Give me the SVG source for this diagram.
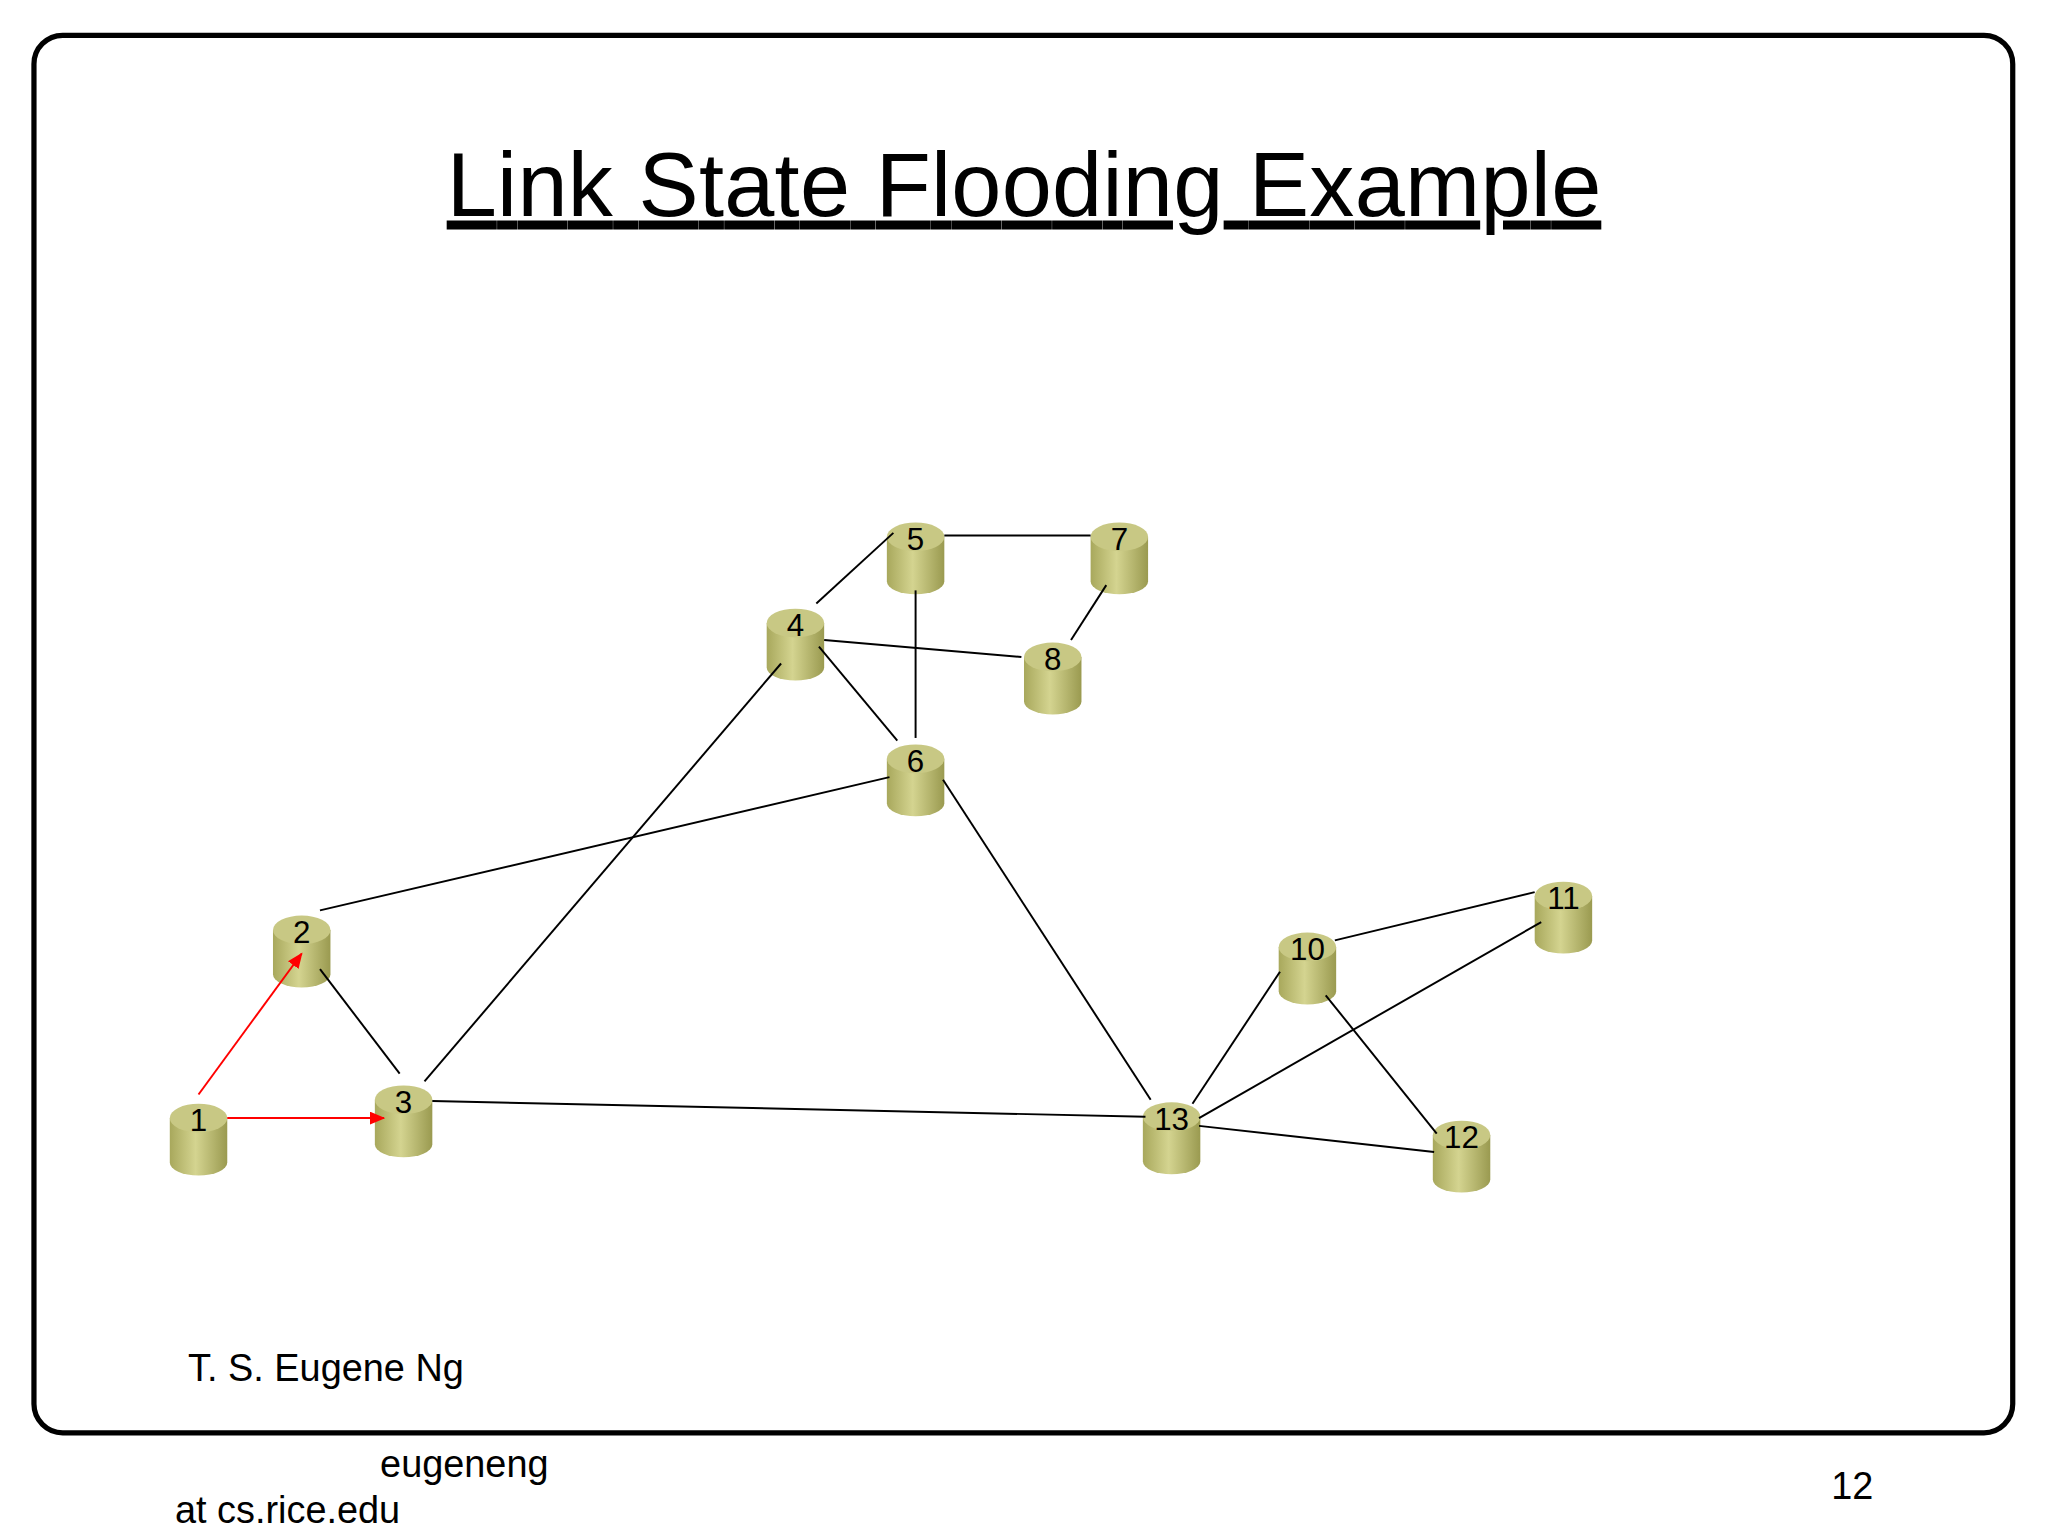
<svg xmlns="http://www.w3.org/2000/svg" width="2048" height="1536" viewBox="0 0 2048 1536">
<defs>
<style>
text{font-family:"Liberation Sans",Arial,sans-serif;fill:#000}
.e{stroke:#000;stroke-width:1.5;fill:none}
.r{stroke:#f00;stroke-width:1.5;fill:none;marker-end:url(#ah)}
.lbl{font-size:24px;text-anchor:middle}
</style>
<linearGradient id="cyl" x1="0" x2="1" y1="0" y2="0">
<stop offset="0" stop-color="#a8a85c"/><stop offset="0.45" stop-color="#d4d490"/><stop offset="1" stop-color="#9a9a50"/>
</linearGradient>
<marker id="ah" markerWidth="12" markerHeight="10" refX="11" refY="5" orient="auto" markerUnits="userSpaceOnUse"><path d="M0,0L12,5L0,10z" fill="#f00"/></marker>
<g id="cy"><path d="M-22,-6V28A22,10 0 0 0 22,28V-6z" fill="url(#cyl)"/><ellipse cx="0" cy="-6" rx="22" ry="11" fill="#c8c884"/></g>
</defs>
<rect width="2048" height="1536" fill="#fff"/>
<g transform="scale(1.30612)">
<rect x="26" y="27" width="1515" height="1070" rx="22" fill="none" stroke="#000" stroke-width="4"/>
<text x="784" y="165" font-size="69" text-anchor="middle" text-decoration="underline" textLength="884">Link State Flooding Example</text>
<g id="n1"><use href="#cy" x="152" y="862"/><text class="lbl" x="152" y="866">1</text></g>
<g id="n2"><use href="#cy" x="231" y="718"/><text class="lbl" x="231" y="722">2</text></g>
<g id="n3"><use href="#cy" x="309" y="848"/><text class="lbl" x="309" y="852">3</text></g>
<g id="n4"><use href="#cy" x="609" y="483"/><text class="lbl" x="609" y="487">4</text></g>
<g id="n5"><use href="#cy" x="701" y="417"/><text class="lbl" x="701" y="421">5</text></g>
<g id="n7"><use href="#cy" x="857" y="417"/><text class="lbl" x="857" y="421">7</text></g>
<g id="n8"><use href="#cy" x="806" y="509"/><text class="lbl" x="806" y="513">8</text></g>
<g id="n6"><use href="#cy" x="701" y="587"/><text class="lbl" x="701" y="591">6</text></g>
<g id="n11"><use href="#cy" x="1197" y="692"/><text class="lbl" x="1197" y="696">11</text></g>
<g id="n10"><use href="#cy" x="1001" y="731"/><text class="lbl" x="1001" y="735">10</text></g>
<g id="n13"><use href="#cy" x="897" y="861"/><text class="lbl" x="897" y="865">13</text></g>
<g id="n12"><use href="#cy" x="1119" y="875"/><text class="lbl" x="1119" y="879">12</text></g>
<g id="connectors">
<line class="r" x1="152" y1="838" x2="231" y2="730"/>
<line class="r" x1="174" y1="856" x2="294" y2="856"/>
<line class="e" x1="245" y1="742" x2="306" y2="822"/>
<line class="e" x1="245" y1="697" x2="681" y2="595"/>
<line class="e" x1="325" y1="828" x2="598" y2="508"/>
<line class="e" x1="331" y1="843" x2="877" y2="855"/>
<line class="e" x1="625" y1="462" x2="684" y2="408"/>
<line class="e" x1="631" y1="490" x2="782" y2="503"/>
<line class="e" x1="627" y1="495" x2="687" y2="567"/>
<line class="e" x1="723" y1="410" x2="835" y2="410"/>
<line class="e" x1="701" y1="452" x2="701" y2="565"/>
<line class="e" x1="847" y1="448" x2="820" y2="490"/>
<line class="e" x1="722" y1="597" x2="881" y2="842"/>
<line class="e" x1="1022" y1="720" x2="1175" y2="683"/>
<line class="e" x1="980" y1="744" x2="913" y2="845"/>
<line class="e" x1="1015" y1="762" x2="1100" y2="868"/>
<line class="e" x1="1180" y1="706" x2="918" y2="856"/>
<line class="e" x1="918" y1="862" x2="1098" y2="882"/>
</g>
<text x="144" y="1057" font-size="29">T. S. Eugene Ng</text>
<text x="291" y="1131" font-size="29">eugeneng</text>
<text x="134" y="1166" font-size="29">at cs.rice.edu</text>
<text x="1402" y="1148" font-size="29">12</text>
</g>
</svg>
